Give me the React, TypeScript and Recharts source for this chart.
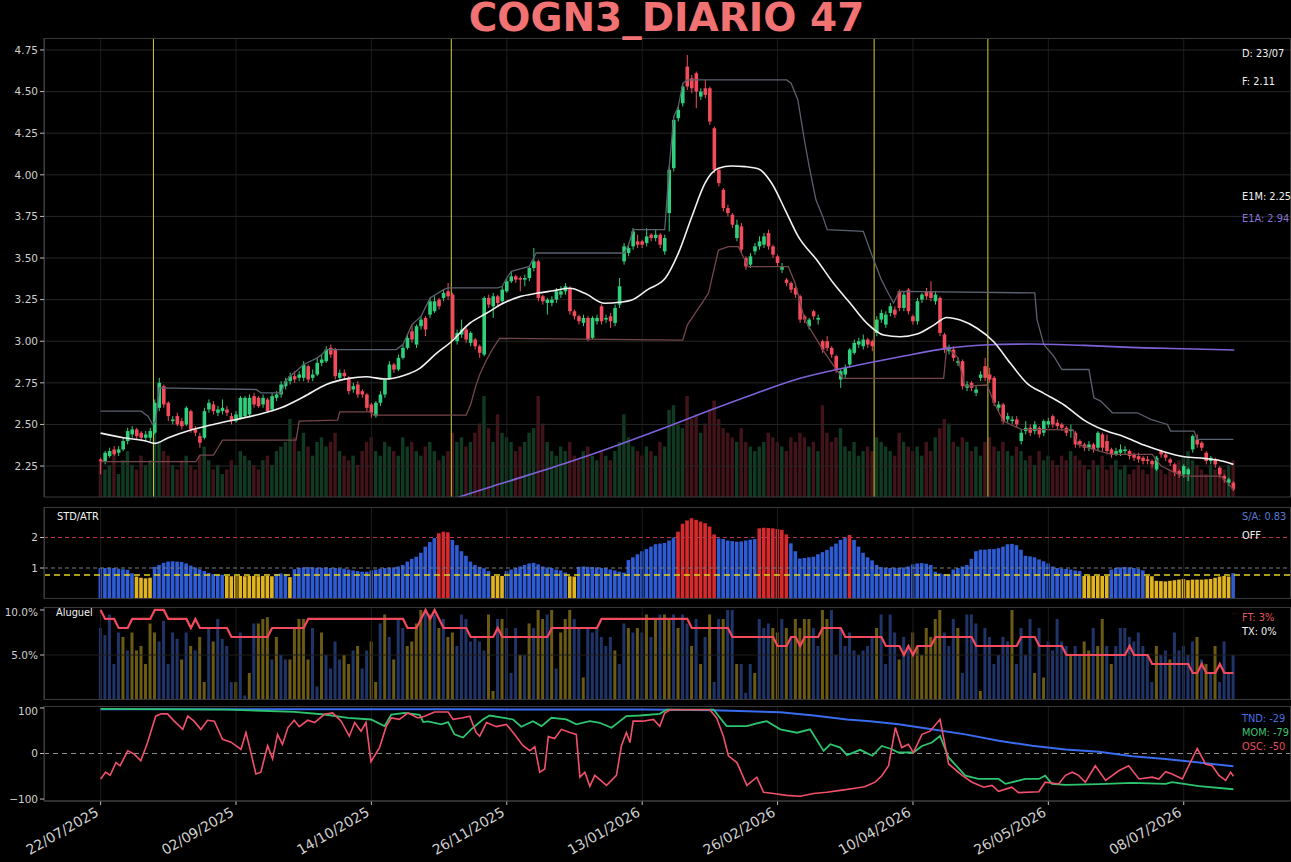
import React from 'react';
import { ComposedChart, Bar, Line, XAxis, YAxis, ReferenceLine } from 'recharts';

const W = 1291;
const FONT = '"DejaVu Sans", sans-serif';
const GREEN = '#2fcf7b';
const RED = '#f24b5b';

const X_DOMAIN: [number, number] = [-12.55, 263.55];
const X_TICKS = [0, 30, 60, 90, 120, 150, 180, 210, 240];
const X_TICK_LABELS = ['22/07/2025', '02/09/2025', '14/10/2025', '26/11/2025', '13/01/2026', '26/02/2026', '10/04/2026', '26/05/2026', '08/07/2026'];

const PRICE_DOMAIN: [number, number] = [2.064, 4.822];
const PRICE_TICKS = [2.25, 2.5, 2.75, 3, 3.25, 3.5, 3.75, 4, 4.25, 4.5, 4.75];
const EVENT_BARS = [11.7, 77.7, 171.4, 196.6];

// daily candles: [open, close, high, low]
const OHLC: number[][] = [
  [2.29, 2.28, 2.30, 2.20], [2.28, 2.33, 2.34, 2.26], [2.31, 2.34, 2.36, 2.30], [2.35, 2.32, 2.37, 2.31], [2.33, 2.35, 2.37, 2.31],
  [2.35, 2.40, 2.42, 2.34], [2.40, 2.46, 2.48, 2.38], [2.44, 2.47, 2.49, 2.42], [2.47, 2.43, 2.48, 2.41], [2.45, 2.42, 2.46, 2.40],
  [2.42, 2.44, 2.46, 2.40], [2.42, 2.46, 2.48, 2.40], [2.45, 2.63, 2.65, 2.44], [2.60, 2.75, 2.78, 2.58], [2.73, 2.62, 2.74, 2.60],
  [2.63, 2.55, 2.64, 2.52], [2.52, 2.53, 2.55, 2.50], [2.55, 2.50, 2.57, 2.49], [2.52, 2.49, 2.54, 2.47], [2.50, 2.60, 2.61, 2.49],
  [2.58, 2.47, 2.59, 2.45], [2.47, 2.45, 2.49, 2.43], [2.43, 2.39, 2.45, 2.36], [2.42, 2.58, 2.60, 2.41], [2.59, 2.63, 2.65, 2.57],
  [2.62, 2.58, 2.64, 2.56], [2.57, 2.59, 2.61, 2.55], [2.58, 2.60, 2.65, 2.56], [2.59, 2.57, 2.61, 2.55], [2.55, 2.52, 2.57, 2.50],
  [2.52, 2.56, 2.58, 2.51], [2.54, 2.66, 2.67, 2.53], [2.55, 2.66, 2.67, 2.54], [2.56, 2.66, 2.68, 2.54], [2.67, 2.62, 2.69, 2.60],
  [2.66, 2.61, 2.67, 2.60], [2.62, 2.66, 2.68, 2.60], [2.65, 2.58, 2.66, 2.57], [2.59, 2.67, 2.69, 2.58], [2.66, 2.68, 2.70, 2.64],
  [2.68, 2.74, 2.76, 2.66], [2.73, 2.76, 2.78, 2.71], [2.76, 2.79, 2.81, 2.74], [2.79, 2.77, 2.82, 2.75], [2.78, 2.80, 2.82, 2.76],
  [2.78, 2.86, 2.88, 2.76], [2.85, 2.77, 2.86, 2.75], [2.78, 2.80, 2.83, 2.76], [2.80, 2.87, 2.90, 2.79], [2.87, 2.89, 2.92, 2.85],
  [2.88, 2.95, 2.97, 2.87], [2.96, 2.92, 2.98, 2.90], [2.95, 2.79, 2.96, 2.77], [2.78, 2.81, 2.83, 2.76], [2.81, 2.79, 2.83, 2.77],
  [2.78, 2.70, 2.79, 2.68], [2.71, 2.73, 2.75, 2.69], [2.74, 2.68, 2.76, 2.66], [2.70, 2.68, 2.71, 2.66], [2.68, 2.60, 2.69, 2.58],
  [2.62, 2.57, 2.63, 2.54], [2.55, 2.63, 2.64, 2.54], [2.63, 2.68, 2.70, 2.61], [2.68, 2.77, 2.78, 2.66], [2.78, 2.86, 2.88, 2.77],
  [2.86, 2.83, 2.87, 2.81], [2.83, 2.90, 2.92, 2.82], [2.90, 2.96, 2.98, 2.89], [2.96, 3.02, 3.04, 2.95], [3.06, 3.01, 3.10, 2.99],
  [2.98, 3.09, 3.10, 2.96], [3.09, 3.13, 3.15, 3.07], [3.14, 3.07, 3.15, 3.03], [3.16, 3.24, 3.26, 3.14], [3.18, 3.24, 3.27, 3.17],
  [3.25, 3.21, 3.26, 3.19], [3.26, 3.29, 3.31, 3.24], [3.30, 3.27, 3.35, 3.25], [3.28, 3.02, 3.29, 3.00], [3.00, 3.05, 3.07, 2.98],
  [3.04, 3.07, 3.13, 3.02], [3.07, 3.01, 3.08, 2.99], [2.99, 3.05, 3.06, 2.97], [3.01, 2.97, 3.02, 2.95], [2.97, 2.93, 2.98, 2.90],
  [2.92, 3.26, 3.27, 2.91], [3.26, 3.22, 3.28, 3.20], [3.21, 3.27, 3.29, 3.14], [3.27, 3.23, 3.28, 3.21], [3.24, 3.31, 3.33, 3.22],
  [3.30, 3.36, 3.38, 3.29], [3.36, 3.39, 3.42, 3.35], [3.39, 3.37, 3.40, 3.35], [3.38, 3.37, 3.39, 3.30], [3.37, 3.38, 3.40, 3.33],
  [3.38, 3.44, 3.45, 3.36], [3.44, 3.48, 3.56, 3.42], [3.48, 3.26, 3.49, 3.24], [3.27, 3.24, 3.28, 3.22], [3.23, 3.25, 3.26, 3.16],
  [3.23, 3.25, 3.27, 3.21], [3.25, 3.30, 3.32, 3.23], [3.28, 3.30, 3.33, 3.26], [3.30, 3.33, 3.35, 3.28], [3.32, 3.18, 3.33, 3.16],
  [3.18, 3.15, 3.19, 3.13], [3.15, 3.12, 3.16, 3.10], [3.11, 3.14, 3.16, 3.09], [3.14, 3.01, 3.15, 3.00], [3.02, 3.14, 3.15, 3.01],
  [3.12, 3.14, 3.16, 3.10], [3.21, 3.12, 3.22, 3.10], [3.13, 3.14, 3.16, 3.11], [3.15, 3.12, 3.17, 3.08], [3.11, 3.20, 3.22, 3.09],
  [3.22, 3.33, 3.38, 3.20], [3.48, 3.57, 3.59, 3.46], [3.53, 3.56, 3.58, 3.51], [3.57, 3.66, 3.68, 3.55], [3.60, 3.58, 3.64, 3.56],
  [3.60, 3.58, 3.61, 3.56], [3.59, 3.63, 3.68, 3.57], [3.64, 3.62, 3.65, 3.60], [3.62, 3.64, 3.67, 3.60], [3.64, 3.58, 3.65, 3.56],
  [3.54, 3.62, 3.64, 3.52], [3.77, 4.03, 4.05, 3.66], [4.04, 4.33, 4.35, 4.02], [4.34, 4.39, 4.41, 4.32], [4.43, 4.53, 4.55, 4.41],
  [4.65, 4.53, 4.72, 4.51], [4.58, 4.52, 4.60, 4.49], [4.61, 4.50, 4.62, 4.40], [4.47, 4.50, 4.52, 4.45], [4.52, 4.48, 4.57, 4.46],
  [4.52, 4.32, 4.53, 4.30], [4.28, 4.03, 4.29, 4.01], [4.03, 3.95, 4.04, 3.93], [3.91, 3.80, 3.92, 3.78], [3.80, 3.77, 3.82, 3.75],
  [3.76, 3.70, 3.77, 3.68], [3.62, 3.70, 3.73, 3.60], [3.69, 3.55, 3.71, 3.53], [3.50, 3.45, 3.51, 3.43], [3.46, 3.51, 3.53, 3.44],
  [3.54, 3.57, 3.59, 3.52], [3.57, 3.60, 3.63, 3.55], [3.58, 3.63, 3.65, 3.56], [3.65, 3.57, 3.67, 3.55], [3.57, 3.52, 3.58, 3.50],
  [3.51, 3.47, 3.52, 3.45], [3.43, 3.45, 3.47, 3.41], [3.37, 3.35, 3.38, 3.33], [3.35, 3.31, 3.36, 3.29], [3.32, 3.28, 3.33, 3.26],
  [3.27, 3.13, 3.28, 3.11], [3.15, 3.13, 3.16, 3.11], [3.09, 3.13, 3.14, 3.07], [3.18, 3.15, 3.19, 3.13], [3.13, 3.14, 3.16, 3.10],
  [3.00, 2.95, 3.01, 2.93], [3.00, 2.96, 3.03, 2.94], [2.96, 2.92, 2.97, 2.90], [2.91, 2.83, 2.92, 2.81], [2.77, 2.82, 2.83, 2.72],
  [2.80, 2.84, 2.86, 2.78], [2.86, 2.95, 2.96, 2.84], [2.93, 2.99, 3.01, 2.92], [2.98, 3.00, 3.02, 2.96], [2.97, 3.01, 3.04, 2.95],
  [3.01, 2.98, 3.02, 2.96], [3.00, 2.97, 3.01, 2.94], [3.05, 3.13, 3.15, 3.03], [3.13, 3.17, 3.19, 3.11], [3.10, 3.16, 3.18, 3.08],
  [3.17, 3.21, 3.23, 3.15], [3.19, 3.16, 3.21, 3.14], [3.30, 3.20, 3.31, 3.18], [3.20, 3.28, 3.30, 3.18], [3.31, 3.18, 3.32, 3.16],
  [3.15, 3.12, 3.16, 3.10], [3.12, 3.24, 3.26, 3.10], [3.25, 3.28, 3.29, 3.23], [3.30, 3.27, 3.32, 3.25], [3.30, 3.26, 3.36, 3.24],
  [3.24, 3.28, 3.30, 3.22], [3.26, 3.05, 3.27, 3.03], [3.04, 2.95, 3.05, 2.93], [2.94, 2.96, 2.98, 2.92], [2.95, 2.90, 2.97, 2.88],
  [2.87, 2.88, 2.90, 2.85], [2.88, 2.73, 2.89, 2.71], [2.72, 2.74, 2.76, 2.70], [2.75, 2.72, 2.76, 2.70], [2.69, 2.71, 2.73, 2.67],
  [2.78, 2.80, 2.82, 2.76], [2.85, 2.78, 2.90, 2.76], [2.80, 2.77, 2.84, 2.75], [2.78, 2.63, 2.79, 2.61], [2.60, 2.62, 2.64, 2.58],
  [2.62, 2.52, 2.63, 2.50], [2.53, 2.55, 2.57, 2.51], [2.52, 2.53, 2.55, 2.50], [2.53, 2.50, 2.55, 2.48], [2.40, 2.45, 2.47, 2.38],
  [2.46, 2.48, 2.52, 2.44], [2.48, 2.45, 2.50, 2.43], [2.46, 2.50, 2.52, 2.44], [2.48, 2.44, 2.49, 2.42], [2.45, 2.52, 2.53, 2.43],
  [2.50, 2.52, 2.54, 2.48], [2.55, 2.50, 2.56, 2.48], [2.51, 2.49, 2.53, 2.47], [2.50, 2.48, 2.51, 2.46], [2.48, 2.45, 2.49, 2.43],
  [2.46, 2.47, 2.50, 2.42], [2.45, 2.38, 2.46, 2.36], [2.40, 2.38, 2.41, 2.36], [2.38, 2.36, 2.39, 2.34], [2.36, 2.38, 2.40, 2.34],
  [2.38, 2.35, 2.39, 2.33], [2.36, 2.45, 2.46, 2.34], [2.44, 2.36, 2.45, 2.34], [2.40, 2.34, 2.44, 2.32], [2.35, 2.32, 2.36, 2.30],
  [2.32, 2.34, 2.36, 2.31], [2.33, 2.35, 2.38, 2.31], [2.34, 2.35, 2.37, 2.32], [2.34, 2.31, 2.35, 2.29], [2.32, 2.30, 2.33, 2.28],
  [2.31, 2.29, 2.33, 2.27], [2.30, 2.28, 2.31, 2.26], [2.29, 2.28, 2.31, 2.26], [2.28, 2.26, 2.29, 2.24], [2.23, 2.30, 2.31, 2.22],
  [2.34, 2.32, 2.35, 2.30], [2.32, 2.30, 2.33, 2.28], [2.29, 2.27, 2.30, 2.25], [2.26, 2.21, 2.27, 2.19], [2.22, 2.20, 2.23, 2.18],
  [2.20, 2.25, 2.26, 2.18], [2.20, 2.23, 2.24, 2.16], [2.35, 2.43, 2.44, 2.33], [2.41, 2.38, 2.44, 2.36], [2.39, 2.36, 2.40, 2.34],
  [2.33, 2.28, 2.34, 2.26], [2.28, 2.30, 2.31, 2.26], [2.29, 2.26, 2.30, 2.24], [2.24, 2.20, 2.25, 2.18], [2.19, 2.17, 2.20, 2.15],
  [2.15, 2.17, 2.18, 2.13], [2.15, 2.11, 2.16, 2.10],
];

// volume (relative units, 100 = full panel height)
const VOLUME = [
  8, 6, 7, 9, 5, 8, 10, 7, 6, 9, 7, 8, 14, 12, 10, 9, 7, 6, 8, 9,
  7, 6, 9, 11, 8, 6, 7, 5, 6, 8, 7, 10, 9, 8, 7, 6, 8, 9, 7, 10,
  11, 12, 17, 13, 10, 14, 11, 9, 12, 13, 11, 12, 14, 10, 9, 8, 9, 7, 10, 12,
  13, 10, 9, 12, 11, 10, 9, 13, 11, 12, 10, 9, 11, 12, 10, 8, 9, 10, 14, 12,
  13, 11, 12, 14, 16, 22, 15, 12, 18, 14, 13, 12, 10, 11, 12, 14, 15, 22, 16, 12,
  10, 9, 11, 10, 12, 9, 8, 10, 11, 9, 8, 10, 9, 8, 10, 12, 18, 13, 11, 10,
  9, 11, 10, 9, 12, 11, 19, 20, 16, 15, 22, 17, 18, 14, 16, 19, 21, 17, 15, 14,
  13, 12, 15, 12, 11, 10, 11, 12, 14, 13, 12, 11, 10, 13, 12, 14, 13, 11, 12, 10,
  20, 14, 12, 13, 15, 11, 10, 12, 9, 10, 11, 10, 13, 12, 11, 10, 9, 14, 12, 11,
  10, 11, 9, 12, 10, 13, 15, 17, 16, 12, 11, 13, 12, 10, 11, 9, 12, 13, 11, 10,
  12, 10, 9, 11, 10, 8, 9, 7, 10, 8, 9, 8, 7, 9, 8, 10, 9, 8, 7, 6,
  8, 7, 9, 6, 7, 8, 6, 7, 5, 6, 7, 6, 5, 7, 9, 6, 5, 6, 7, 8,
  9, 10, 8, 7, 6, 5, 7, 6, 5, 6, 7, 8,
];

// [bar, value] points
const E1M = [
  [0, 2.448], [5, 2.42], [10, 2.40], [12, 2.386], [15, 2.42], [20, 2.466], [25, 2.50], [30, 2.53], [35, 2.56], [40, 2.60],
  [45, 2.666], [50, 2.74], [55, 2.777], [58.8, 2.787], [63, 2.773], [67, 2.793], [70.7, 2.837], [74.4, 2.927], [77.7, 2.997],
  [81.8, 3.108], [85.5, 3.168], [89.2, 3.228], [92.9, 3.268], [96.6, 3.288], [100.3, 3.303], [104, 3.318], [107.3, 3.288],
  [111.7, 3.228], [115, 3.234], [117.7, 3.248], [121.3, 3.312], [125.1, 3.378], [128, 3.528], [131, 3.748], [133.9, 3.949],
  [136.9, 4.039], [139.8, 4.053], [142.8, 4.049], [145.8, 4.035], [148.7, 3.949], [151.7, 3.788], [154.6, 3.628],
  [158.7, 3.488], [162.4, 3.348], [166.1, 3.228], [169.8, 3.108], [173.5, 3.037], [177.2, 3.027], [180.9, 3.043],
  [184.6, 3.097], [187.5, 3.143], [190.5, 3.127], [194.2, 3.078], [197.9, 2.997], [201.6, 2.867], [205.3, 2.747],
  [209, 2.687], [213.5, 2.617], [217.9, 2.526], [222.3, 2.466], [226.8, 2.426], [231.2, 2.376], [235.6, 2.336],
  [240.1, 2.306], [244.5, 2.296], [247.5, 2.286], [251, 2.26],
];
const E1A = [
  [77, 2.04], [79.6, 2.065], [90, 2.155], [104, 2.276], [115, 2.38], [125, 2.48], [135, 2.585], [145, 2.685], [155, 2.777],
  [166.1, 2.847], [177.2, 2.907], [187.5, 2.957], [195.7, 2.977], [206, 2.983], [218, 2.975], [228.2, 2.963], [240, 2.955],
  [251.2, 2.947],
];
const UPPER = [
  [0, 2.58], [9, 2.58], [10.5, 2.55], [11.5, 2.50], [12.2, 2.52], [13, 2.72], [34.5, 2.71], [35.5, 2.69], [40, 2.69], [41, 2.76],
  [42, 2.79], [45, 2.86], [48, 2.90], [49, 2.92], [50, 2.95], [65.5, 2.95], [66, 2.96], [67, 2.98], [68, 3.04], [69, 3.10],
  [71, 3.15], [73, 3.26], [76, 3.31], [77, 3.32], [88, 3.32], [89, 3.33], [90, 3.38], [91, 3.42], [95, 3.45], [96.5, 3.53],
  [116, 3.53], [117, 3.58], [118, 3.67], [125, 3.67], [126, 4.05], [127, 4.35], [128, 4.41], [129, 4.55], [130, 4.57],
  [152, 4.57], [153, 4.55], [154.5, 4.45], [156, 4.20], [157, 4.05], [158.5, 3.85], [160, 3.75], [161, 3.67], [169, 3.66],
  [171, 3.51], [173, 3.37], [174.5, 3.29], [175.7, 3.23], [177, 3.30], [207, 3.29], [207.5, 3.13], [209, 2.98], [211.2, 2.91],
  [213, 2.83], [219, 2.83], [220.1, 2.66], [221.6, 2.64], [224.2, 2.57], [229.7, 2.57], [232.7, 2.53], [236.4, 2.50],
  [237.1, 2.46], [242.3, 2.46], [243, 2.41], [251, 2.41],
];
const LOWER = [
  [0, 2.276], [21.1, 2.276], [22, 2.316], [25, 2.316], [26, 2.36], [27, 2.406], [43.3, 2.406], [44, 2.52], [52.5, 2.526],
  [53, 2.576], [59.6, 2.576], [60.5, 2.556], [81, 2.556], [82, 2.62], [83, 2.72], [84, 2.80], [85.5, 2.887], [87, 2.96],
  [88.4, 3.017], [129, 3.007], [130, 3.097], [132, 3.18], [134.7, 3.288], [136.9, 3.548], [139.1, 3.568], [141.3, 3.568],
  [143.5, 3.448], [152.4, 3.448], [153.9, 3.348], [156, 3.13], [160, 2.95], [163, 2.83], [164.5, 2.777], [186.8, 2.777],
  [187.5, 2.967], [190, 2.90], [191.5, 2.73], [196.4, 2.737], [198, 2.63], [200, 2.52], [204, 2.47], [215.5, 2.467],
  [216.5, 2.38], [220, 2.35], [224, 2.32], [233, 2.32], [235, 2.25], [238, 2.21], [240, 2.19], [248.2, 2.19], [249, 2.17],
  [251, 2.11],
];

// STD/ATR per bar
const STD_ATR = [
  1.00, 1.00, 1.01, 1.00, 0.98, 0.96, 0.94, 0.83, 0.72, 0.68, 0.66, 0.68,
  1.04, 1.10, 1.17, 1.21, 1.22, 1.21, 1.20, 1.15, 1.08, 1.02, 0.96, 0.90, 0.84,
  0.80, 0.78, 0.78,
  0.74, 0.73, 0.74, 0.74, 0.73, 0.74, 0.74, 0.73, 0.74, 0.74, 0.73,
  0.80, 0.82, 0.80, 0.70,
  0.96, 1.00, 1.02, 1.03, 1.02, 1.01, 1.01, 1.02, 1.00, 1.00, 0.99, 0.98,
  0.95, 0.92, 0.90, 0.88, 0.88, 0.92,
  0.95, 0.98, 1.00, 1.01, 1.02, 1.05, 1.10, 1.21, 1.30, 1.37, 1.50, 1.70,
  1.85, 1.98, 2.14, 2.19, 2.17,
  1.92, 1.75, 1.55, 1.40, 1.21, 1.10, 1.04, 0.99, 0.90,
  0.74, 0.74, 0.74,
  0.90, 0.95, 1.00, 1.05, 1.10, 1.15, 1.17, 1.12, 1.05, 1.02, 1.00, 0.95, 0.92,
  0.85, 0.73, 0.72,
  1.04, 1.05, 1.04, 1.03, 1.02, 1.00, 1.00, 0.95, 0.92, 0.88, 0.85,
  1.26, 1.35, 1.45, 1.55, 1.62, 1.70, 1.78, 1.80, 1.82, 1.90, 2.00,
  2.19, 2.45, 2.56, 2.63, 2.58, 2.52, 2.47, 2.36, 2.10,
  1.97, 1.95, 1.90, 1.88, 1.86, 1.87, 1.90, 1.93, 1.95,
  2.30, 2.32, 2.31, 2.30, 2.28, 2.25, 2.10,
  1.81, 1.55, 1.31, 1.33, 1.35, 1.37, 1.45, 1.52, 1.59, 1.70, 1.80, 1.92, 2.00,
  2.08, 1.92, 1.70, 1.50, 1.35,
  1.25, 1.10, 1.03, 1.00, 1.00, 1.01, 1.00, 1.02, 1.05,
  1.12, 1.15, 1.16, 1.14, 1.10, 0.88, 0.82, 0.80, 0.79, 0.95, 1.00, 1.05, 1.10,
  1.30, 1.55, 1.60, 1.60, 1.62, 1.62, 1.65, 1.70, 1.78, 1.79, 1.75, 1.60,
  1.40, 1.38, 1.35, 1.28, 1.22, 1.15, 1.05, 1.00, 0.98, 0.97, 0.95, 0.92, 0.90,
  0.74, 0.74, 0.74, 0.74, 0.74, 0.74,
  0.95, 1.00, 1.02, 1.03, 1.02, 1.00, 0.97, 0.92,
  0.74, 0.73, 0.58, 0.57, 0.56, 0.58, 0.60, 0.62, 0.64, 0.60, 0.62, 0.62, 0.62, 0.63, 0.64, 0.68, 0.72, 0.74, 0.72,
  0.83,
];

// Aluguel (%) per bar, tone Y = yellow bar, B = blue bar
const ALUGUEL = [
  8.0, 7.2, 9.5, 4.0, 7.5, 7.0, 5.5, 7.5, 5.5, 6.0, 4.0, 8.5, 7.5, 6.5, 8.8, 4.0, 7.5, 6.8, 4.5, 7.5,
  6.0, 5.5, 7.0, 2.0, 8.0, 6.5, 9.0, 6.8, 6.0, 2.0, 2.0, 7.5, 0.5, 3.0, 8.5, 8.5, 9.0, 9.2, 4.5, 7.0,
  5.0, 4.5, 4.5, 8.0, 9.0, 9.0, 4.5, 8.0, 1.5, 7.5, 5.0, 3.5, 6.5, 4.5, 5.0, 4.0, 5.5, 6.0, 3.5, 5.5,
  6.5, 2.0, 8.5, 9.5, 7.0, 4.5, 9.0, 8.0, 6.0, 6.5, 8.5, 10.0, 10.0, 9.5, 9.5, 8.0, 9.0, 7.0, 7.5, 6.0,
  9.5, 9.0, 6.5, 7.0, 6.5, 5.5, 9.5, 1.0, 9.0, 9.0, 8.0, 3.0, 8.0, 5.0, 5.0, 8.5, 8.0, 10.0, 9.0, 9.5,
  10.0, 3.5, 7.5, 9.0, 10.0, 9.0, 8.0, 2.5, 8.0, 7.5, 8.0, 7.0, 6.0, 7.0, 5.5, 4.0, 8.5, 8.0, 7.5, 8.0,
  7.5, 9.5, 7.0, 9.0, 9.5, 9.5, 9.0, 9.5, 8.0, 9.5, 8.5, 6.0, 9.0, 4.0, 7.0, 9.5, 2.0, 9.0, 9.0, 10.0,
  10.0, 4.0, 4.0, 0.8, 4.0, 3.0, 9.0, 8.0, 8.5, 8.0, 7.5, 9.0, 8.0, 7.0, 9.0, 8.0, 9.0, 9.0, 8.0, 6.0,
  10.0, 9.0, 10.0, 5.0, 8.0, 6.0, 7.5, 5.5, 5.0, 5.5, 6.0, 7.0, 8.0, 9.5, 4.0, 9.5, 7.5, 4.5, 7.0, 6.0,
  7.5, 6.0, 5.0, 8.0, 7.0, 9.0, 10.0, 7.5, 6.0, 9.0, 8.0, 3.0, 9.5, 9.5, 8.5, 1.0, 8.0, 7.0, 4.0, 5.0,
  7.0, 6.5, 10.0, 4.0, 8.0, 5.0, 9.0, 3.0, 8.0, 2.5, 6.5, 5.5, 9.0, 6.5, 6.0, 5.0, 6.0, 5.0, 6.5, 5.5,
  8.0, 6.0, 9.0, 6.0, 4.0, 6.0, 8.0, 8.0, 7.0, 6.5, 7.5, 6.0, 5.0, 2.0, 6.0, 5.0, 5.5, 4.5, 7.5, 5.5,
  6.0, 5.0, 6.5, 7.0, 4.5, 4.0, 3.0, 6.0, 2.0, 6.5, 3.0, 5.0,
];
const ALUGUEL_TONE =
  'BBBBBYBYYY' + 'YYYBBBBBYB' + 'YBYYBYBBBB' + 'YBBYBYYYBY' + 'BBYYYYYBBY' +
  'BBBBYYBYBB' + 'YYBYBYBBYY' + 'YYBYBYBYYB' + 'BBBBBBYYBY' + 'BBBYBYBYYB' +
  'YBYYYBBYBB' + 'BBBBYBBYBY' + 'BYBYBYYBYB' + 'BYBYBYBBYB' + 'BYBBBYBBBY' +
  'YBYBYYYYBB' + 'YYBBBBBBBB' + 'BBYBBBBYBB' + 'YYYYYYYBBB' + 'YBBBBYBBBB' +
  'BBYBBBBYBY' + 'BBBBBYBBYY' + 'BYYBYBBBBB' + 'BBBBYBBYBB' + 'BBBYBYBYBB' + 'BB';
// FT (%) as [first bar, level] runs
const FT_RUNS = [
  [0, 10], [1, 9], [4, 8], [7, 9], [12, 10], [15, 9], [20, 8], [21, 9], [22, 8], [29, 7], [38, 8], [46, 9], [68, 8],
  [71, 9], [72, 10], [73, 9], [74, 10], [75, 9], [76, 8], [82, 7], [88, 8], [89, 7], [100, 8], [111, 9], [131, 8],
  [140, 7], [150, 6], [153, 7], [155, 6], [156, 7], [160, 8], [165, 7], [174, 6], [178, 5], [179, 6], [180, 5], [181, 6],
  [185, 7], [194, 6], [204, 7], [208, 6], [214, 5], [228, 6], [229, 5], [233, 4], [242, 3], [244, 4], [245, 3], [248, 4],
  [249, 3],
];
const TX = [[0, 0], [251, 0]];

const TND = [
  [0, 97], [40, 97], [80, 97], [120, 96.5], [135.8, 95], [150.6, 90.7], [158, 83.4], [165.4, 74.7], [170.5, 71],
  [176.8, 64], [184.2, 53], [191.6, 42], [199, 28], [206.4, 17], [213.8, 9], [221.2, 4], [228.6, -6], [236, -12],
  [243.4, -20], [251, -28],
];
const MOM = [
  [0, 97.8], [28.1, 96.5], [42.9, 91.4], [49.6, 85.6], [54.8, 78.4], [59.9, 74.7], [62.9, 60], [64.4, 85.6], [67.4, 89.3],
  [70.7, 85], [71.5, 69], [72.5, 70.5], [75.5, 64], [77, 69], [78.4, 42], [80.3, 35], [82.1, 53], [84.7, 74.7], [86.2, 83.4],
  [91.4, 74.7], [93.2, 58.8], [95.8, 71], [97.7, 60.2], [99.9, 78.4], [103.2, 74.7], [105.4, 63.9], [108.4, 71],
  [110.6, 67.5], [113.2, 56.6], [116.5, 82.1], [119.5, 83.4], [123.9, 87.1], [125.4, 96.5], [135.8, 96.5], [138.7, 60.2],
  [143.2, 60.2], [145.4, 66], [147.6, 71], [150.6, 53], [154.3, 45.6], [157.2, 53], [160.2, 5.8], [161.7, 20.3],
  [163.9, 13], [165.4, -3.6], [168.3, 8], [171, -5], [173.1, 16.6], [175.3, 9.3], [176.8, 2.2], [180.1, 2.2], [182, 16.6],
  [184.2, 24.1], [186, 38.5], [187.9, -8.7], [191.6, -48.5], [194.5, -55.9], [199, -55.9], [200.5, -66.7], [204.9, -55.9],
  [207.9, -55.9], [209.3, -48.5], [210.8, -66.7], [213.8, -68.9], [221.2, -67.4], [228.6, -64.5], [236, -66.7],
  [237.4, -63], [243.4, -71.7], [251, -78.5],
];
const OSC = [
  [0, -56], [1.1, -41], [2.1, -48], [3.4, -20], [4.3, -27], [6, 6], [7.4, -1], [8.9, -16], [10.4, 24], [12.2, 82],
  [13.4, 87], [14.8, 87], [16.3, 71], [18.2, 53], [19.3, 82], [20.7, 71], [22.2, 53], [23.7, 73], [25.2, 71], [27, 31],
  [28.9, 25], [31.1, 9], [32.2, 46], [33.3, 2], [34.4, -45], [35.5, -41], [37, 17], [38.1, -12], [39.2, 42], [40.3, 20],
  [41.5, 57], [42.9, 73], [44, 59], [45.9, 73], [47.4, 68], [49.6, 86], [51.4, 89], [53.3, 71], [55.1, 38], [56.3, 68],
  [57.7, 49], [58.8, 68], [59.9, -18], [61.8, 13], [63.3, 60], [64.4, 78], [66.2, 75], [68.1, 89], [70.3, 78], [71.8, 82],
  [74, 91], [77, 91], [78.1, 75], [80, 78], [81.8, 82], [83.2, 46], [84, 38], [85.5, 68], [87.7, 59], [89.9, 64],
  [91.4, 46], [93.6, 17], [95.1, 6], [96.2, 15], [97.3, -41], [98.4, -34], [99.2, 37], [100.6, 33], [102.1, 53], [104, 46],
  [105.4, 42], [106.2, -52], [107.3, -41], [108.4, -72], [109.5, -48], [112.1, -70], [114.3, -48], [115.4, 17],
  [116.5, 46], [117.3, 24], [118, 71], [120.2, 71], [122.5, 75], [123.9, 60], [125, 89], [126.2, 96], [135, 96],
  [136.5, 78], [138, 38], [139.1, -5], [141, -20], [143.2, -70], [145.4, -52], [146.9, -85], [149.1, -88], [152, -92],
  [155, -94], [158, -88], [160.9, -85], [163.9, -81], [166.8, -77], [169.3, -73], [171.6, -63], [173.1, -49],
  [174.6, -27], [176.1, 57], [177.5, 13], [179, 20], [180.1, 2], [182, 42], [183.8, 49], [186, 75], [187.9, -23],
  [190.9, -48], [193.1, -63], [195.7, -74], [197.5, -70], [199, -83], [201.9, -74], [203.4, -86], [207.9, -84],
  [209.3, -63], [212.3, -67], [213.8, -48], [215.3, -41], [216.7, -48], [218.2, -63], [220.4, -27], [222.7, -59],
  [225.6, -38], [227.8, -27], [230.1, -56], [233, -52], [234.5, -56], [236, -40], [237.4, -45], [239.7, -56],
  [241.1, -27], [243, 11], [244.8, -23], [246.3, -27], [247.8, -48], [249.3, -59], [250.4, -41], [251, -50],
];

// ---- tables built from the data ----
const pts = (arr: number[][]) => arr.map(([i, v]) => ({ i, v }));
const ftAt = (i: number) => {
  let lvl = FT_RUNS[0][1];
  for (const [start, v] of FT_RUNS) if (i >= start) lvl = v;
  return lvl;
};
const candleRows = OHLC.map(([o, c, h, l], i) => ({ i, o, c, h, l, range: [l, h], up: c >= o, vol: VOLUME[i] }));
const stdRows = STD_ATR.map((v, i) => ({ i, v }));
const aluRows = ALUGUEL.map((v, i) => ({ i, v, tone: ALUGUEL_TONE[i], ft: ftAt(i) }));

// ---- shapes ----
const Candle = (p: any) => {
  const { x, y, width, height, payload } = p;
  if (x == null || !payload) return null;
  const top = Math.min(y, y + height);
  const bot = Math.max(y, y + height);
  const span = payload.h - payload.l;
  const k = span > 0 ? (bot - top) / span : 0;
  const py = (v: number) => top + (payload.h - v) * k;
  const cx = x + width / 2;
  const color = payload.up ? GREEN : RED;
  const y1 = py(Math.max(payload.o, payload.c));
  const y2 = py(Math.min(payload.o, payload.c));
  return (
    <g>
      <line x1={cx} x2={cx} y1={top} y2={bot} stroke={color} strokeWidth={1} />
      <rect x={cx - 1.8} y={y1} width={3.6} height={Math.max(y2 - y1, 1)} fill={color} />
    </g>
  );
};
const VolBar = (p: any) => {
  const { x, y, width, height, payload } = p;
  if (x == null || !payload) return null;
  const cx = x + width / 2;
  return <rect x={cx - 1.7} y={Math.min(y, y + height)} width={3.4} height={Math.abs(height)} fill={payload.up ? '#103a22' : '#42141a'} />;
};
const stdColor = (v: number) => (v > 2.05 ? '#d72a2c' : v < 0.76 ? '#e2b520' : '#2e5cd5');
const StdBar = (p: any) => {
  const { x, y, width, height, payload } = p;
  if (x == null || !payload) return null;
  const cx = x + width / 2;
  return <rect x={cx - 1.8} y={Math.min(y, y + height)} width={3.6} height={Math.abs(height)} fill={stdColor(payload.v)} />;
};
const AluBar = (p: any) => {
  const { x, y, width, height, payload } = p;
  if (x == null || !payload) return null;
  const cx = x + width / 2;
  return <rect x={cx - 1.5} y={Math.min(y, y + height)} width={3} height={Math.abs(height)} fill={payload.tone === 'Y' ? '#6b5a14' : '#1f3468'} />;
};
const DateTick = (p: any) => {
  const { x, y, payload } = p;
  const idx = X_TICKS.indexOf(payload.value);
  return (
    <g transform={`translate(${x - 1},${y + 8})`}>
      <text x={0} y={0} textAnchor="end" transform="rotate(-30)" fill="#d0d0d0" fontSize={14} fontFamily={FONT}>
        {X_TICK_LABELS[idx]}
      </text>
    </g>
  );
};

const tickStyle = { fill: '#cfcfcf', fontSize: 10.5, fontFamily: FONT };
const yAxisCommon = {
  width: 44,
  tick: tickStyle,
  tickLine: { stroke: '#bdbdbd' },
  tickSize: 4,
  axisLine: { stroke: '#444' },
  allowDataOverflow: true,
};
const hiddenX = <XAxis dataKey="i" type="number" domain={X_DOMAIN} ticks={X_TICKS} allowDataOverflow hide />;
const vGrid = X_TICKS.map((t) => <ReferenceLine key={`vg${t}`} x={t} stroke="#1c1c1c" strokeWidth={1} />);

const Layer = ({ top, height, children }: { top: number; height: number; children: React.ReactNode }) => (
  <div style={{ position: 'absolute', left: 0, top, width: W, height }}>{children}</div>
);

export default function App() {
  return (
    <div style={{ position: 'absolute', left: 0, top: 0, width: W, height: 862, background: '#000', overflow: 'hidden' }}>
      {/* main panel: grid, volume, event lines */}
      <Layer top={38} height={459}>
        <ComposedChart width={W} height={459} data={candleRows} margin={{ top: 0, right: 1, bottom: 0, left: 44 }}>
          {hiddenX}
          <YAxis yAxisId="price" domain={PRICE_DOMAIN} allowDataOverflow hide />
          <YAxis yAxisId="vol" domain={[0, 100]} allowDataOverflow hide />
          {vGrid.map((el) => React.cloneElement(el, { yAxisId: 'price' }))}
          {PRICE_TICKS.map((t) => (
            <ReferenceLine key={`hg${t}`} yAxisId="price" y={t} stroke="#262626" strokeWidth={1} />
          ))}
          <Bar yAxisId="vol" dataKey="vol" barSize={4} shape={VolBar} isAnimationActive={false} />
          {EVENT_BARS.map((b) => (
            <ReferenceLine key={`ev${b}`} yAxisId="price" x={b} stroke="#d6cc3c" strokeWidth={1} />
          ))}
        </ComposedChart>
      </Layer>
      {/* main panel: price */}
      <Layer top={38} height={459}>
        <ComposedChart width={W} height={459} data={candleRows} margin={{ top: 0, right: 1, bottom: 0, left: 0 }}>
          {hiddenX}
          <YAxis {...yAxisCommon} domain={PRICE_DOMAIN} ticks={PRICE_TICKS} tickFormatter={(v: number) => v.toFixed(2)} />
          <Line data={pts(UPPER)} dataKey="v" type="linear" stroke="#5b606e" strokeWidth={1.3} dot={false} isAnimationActive={false} />
          <Line data={pts(LOWER)} dataKey="v" type="linear" stroke="#74474b" strokeWidth={1.3} dot={false} isAnimationActive={false} />
          <Line data={pts(E1A)} dataKey="v" type="monotone" stroke="#7d62d8" strokeWidth={1.6} dot={false} isAnimationActive={false} />
          <Line data={pts(E1M)} dataKey="v" type="monotone" stroke="#f2f2f2" strokeWidth={1.6} dot={false} isAnimationActive={false} />
          <Bar dataKey="range" barSize={4} shape={Candle} isAnimationActive={false} />
        </ComposedChart>
      </Layer>

      {/* STD/ATR */}
      <Layer top={507} height={91.5}>
        <ComposedChart width={W} height={91.5} data={stdRows} margin={{ top: 0, right: 1, bottom: 0, left: 0 }}>
          {hiddenX}
          <YAxis {...yAxisCommon} domain={[0, 3]} ticks={[0, 1, 2]} />
          {vGrid}
          <Bar dataKey="v" barSize={4} shape={StdBar} isAnimationActive={false} />
          <ReferenceLine y={2} stroke="#b8344a" strokeDasharray="4 3" strokeWidth={1} />
          <ReferenceLine y={1} stroke="#7a7a7a" strokeDasharray="4 3" strokeWidth={1} />
          <ReferenceLine y={0.77} stroke="#e4cf22" strokeDasharray="6 4" strokeWidth={1.5} />
        </ComposedChart>
      </Layer>

      {/* Aluguel */}
      <Layer top={607} height={93}>
        <ComposedChart width={W} height={93} data={aluRows} margin={{ top: 0, right: 1, bottom: 0, left: 0 }}>
          {hiddenX}
          <YAxis {...yAxisCommon} domain={[0, 10.33]} ticks={[0, 5, 10]} tickFormatter={(v: number) => `${v.toFixed(1)}%`} />
          {vGrid}
          <ReferenceLine y={5} stroke="#1e1e1e" strokeWidth={1} />
          <Bar dataKey="v" barSize={4} shape={AluBar} isAnimationActive={false} />
          <Line dataKey="ft" type="linear" stroke="#f04a5c" strokeWidth={2.2} dot={false} isAnimationActive={false} />
          <Line data={pts(TX)} dataKey="v" type="linear" stroke="#f4f4f4" strokeWidth={1.6} dot={false} isAnimationActive={false} />
        </ComposedChart>
      </Layer>

      {/* oscillators + dates */}
      <Layer top={706} height={156}>
        <ComposedChart width={W} height={156} margin={{ top: 0, right: 1, bottom: 0, left: 0 }}>
          <XAxis
            dataKey="i"
            type="number"
            domain={X_DOMAIN}
            ticks={X_TICKS}
            allowDataOverflow
            interval={0}
            height={61}
            tick={DateTick}
            tickLine={{ stroke: '#bdbdbd' }}
            tickSize={4}
            axisLine={{ stroke: '#444' }}
          />
          <YAxis
            {...yAxisCommon}
            domain={[-104.3, 104.3]}
            ticks={[-100, 0, 100]}
            tickFormatter={(v: number) => (v < 0 ? `\u2212${Math.abs(v)}` : `${v}`)}
          />
          {vGrid}
          <ReferenceLine y={0} stroke="#8a8a8a" strokeDasharray="5 4" strokeWidth={1} />
          <Line data={pts(TND)} dataKey="v" type="linear" stroke="#3a6cf0" strokeWidth={2} dot={false} isAnimationActive={false} />
          <Line data={pts(MOM)} dataKey="v" type="linear" stroke="#2ec46e" strokeWidth={1.8} dot={false} isAnimationActive={false} />
          <Line data={pts(OSC)} dataKey="v" type="linear" stroke="#f0506a" strokeWidth={1.6} dot={false} isAnimationActive={false} />
        </ComposedChart>
      </Layer>

      {/* frames and texts */}
      <svg width={W} height={862} style={{ position: 'absolute', left: 0, top: 0, pointerEvents: 'none' }} fontFamily={FONT}>
        <rect x={44.5} y={38.5} width={1246} height={458.5} fill="none" stroke="#3a3a3a" />
        <rect x={44.5} y={507.5} width={1246} height={91} fill="none" stroke="#3a3a3a" />
        <rect x={44.5} y={607.5} width={1246} height={92} fill="none" stroke="#3a3a3a" />
        <rect x={44.5} y={706.5} width={1246} height={94.5} fill="none" stroke="#3a3a3a" />
        <text x={666.5} y={31} textAnchor="middle" fontSize={39} fontWeight="bold" fill="#f07272">COGN3_DIARIO 47</text>
        <g fontSize={9.8}>
          <text x={1242} y={57} fill="#f2f2f2">D: 23/07</text>
          <text x={1242} y={85} fill="#f2f2f2">F: 2.11</text>
          <text x={1242} y={200} fill="#f2f2f2">E1M: 2.25</text>
          <text x={1242} y={222} fill="#8a72d8">E1A: 2.94</text>
          <text x={57} y={520} fill="#f2f2f2">STD/ATR</text>
          <text x={1242} y={520} fill="#5a7ad6">S/A: 0.83</text>
          <text x={1242} y={539} fill="#f2f2f2">OFF</text>
          <text x={56} y={616} fill="#f2f2f2">Aluguel</text>
          <text x={1242} y={621} fill="#e2575f">FT: 3%</text>
          <text x={1242} y={635} fill="#f2f2f2">TX: 0%</text>
          <text x={1242} y={722} fill="#4a6fe2">TND: -29</text>
          <text x={1242} y={736} fill="#3cc374">MOM: -79</text>
          <text x={1242} y={750} fill="#e24e62">OSC: -50</text>
        </g>
      </svg>
    </div>
  );
}
